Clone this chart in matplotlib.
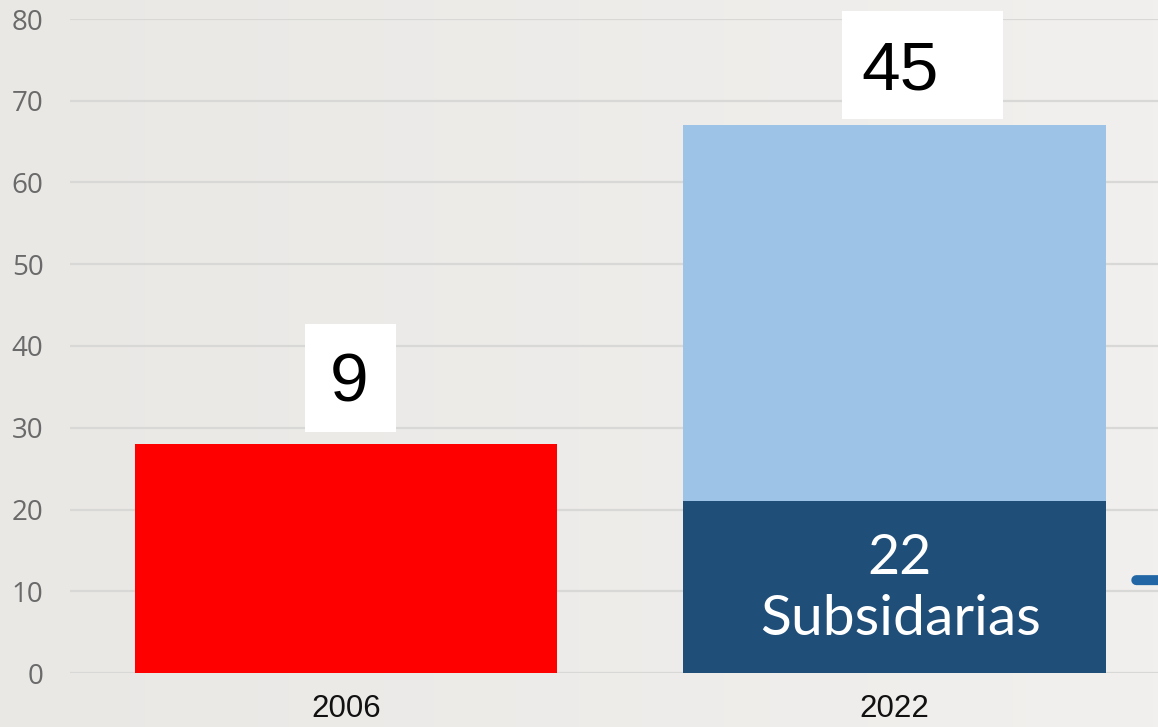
import matplotlib
matplotlib.use("Agg")
import matplotlib.pyplot as plt
import numpy as np
from matplotlib.colors import LinearSegmentedColormap
from matplotlib.patches import Rectangle
from matplotlib.transforms import Affine2D, ScaledTranslation

categories = ["2006", "2022"]
base_values = [28, 21]        # red bar (2006), dark-blue segment (2022)
top_values = [0, 46]          # light-blue segment on 2022
box_labels = ["9", "45"]
inner_number = "22"
inner_text = "Subsidarias"
yticks = [0, 10, 20, 30, 40, 50, 60, 70, 80]

W, H = 1158, 727
DPI = 100
fig = plt.figure(figsize=(W / DPI, H / DPI), dpi=DPI)
PX = 72 / DPI  # points per pixel

# gradient background
bg = fig.add_axes([0, 0, 1, 1])
grad = np.linspace(0, 1, 256).reshape(1, -1)
cmap = LinearSegmentedColormap.from_list("bg", ["#e9e8e5", "#f1f0ee"])
bg.imshow(grad, aspect="auto", cmap=cmap, extent=[0, 1, 0, 1])
bg.axis("off")

ax = fig.add_axes([70 / W, 1 - 673 / H, (W - 70) / W, (673 - 19) / H])
ax.patch.set_alpha(0)

x = np.arange(len(categories))
colors_base = ["#ff0000", "#1f4e79"]
ax.bar(x, base_values, width=0.77, color=colors_base, zorder=3)
ax.bar(x, top_values, width=0.77, bottom=base_values, color="#9dc3e6", zorder=3)

ax.set_ylim(0, 80)
ax.set_xlim(-0.503, 1.48)
ax.set_yticks(yticks)
ax.yaxis.grid(True, color="#d8d8d6", linewidth=1.6, zorder=0)
ax.set_axisbelow(True)
for s in ax.spines.values():
    s.set_visible(False)
ax.tick_params(axis="y", length=0, pad=19, labelsize=20, labelcolor="#6a6a6a")
ax.tick_params(axis="x", length=0, pad=15, labelsize=22.5, labelcolor="#111111")
for lab in ax.get_yticklabels():
    lab.set_fontfamily("Open Sans")
ax.set_xticks(x)
ax.set_xticklabels(categories, fontfamily="Liberation Sans")

totals = [b + t for b, t in zip(base_values, top_values)]


def pt_transform(xd, yd):
    return Affine2D().scale(DPI / 72) + ScaledTranslation(xd, yd, ax.transData)


# white label boxes: (box centre dx, dy, width, height, text dx, baseline dy) in pixels
box_geom = [(4.5, 66, 91, 108, 3, 43), (27.5, 60, 161, 108, 5, 36)]
for i, (lab, tot) in enumerate(zip(box_labels, totals)):
    cx, cy, bw, bh, tx, tb = box_geom[i]
    rect = Rectangle(((cx - bw / 2) * PX, (cy - bh / 2) * PX), bw * PX, bh * PX,
                     facecolor="white", edgecolor="none", zorder=4,
                     transform=pt_transform(x[i], tot), clip_on=False)
    ax.add_patch(rect)
    ax.annotate(lab, (x[i], tot), xytext=(tx * PX, tb * PX), textcoords="offset points",
                ha="center", va="baseline", fontsize=50, fontfamily="Liberation Sans",
                color="black", zorder=5)

mid = base_values[1] / 2
ax.annotate(inner_number, (x[1], mid), xytext=(5 * PX, 13 * PX), textcoords="offset points",
            ha="center", va="baseline", fontsize=40, fontfamily="Lato", color="white", zorder=5)
ax.annotate(inner_text, (x[1], mid), xytext=(6 * PX, -48 * PX), textcoords="offset points",
            ha="center", va="baseline", fontsize=41, fontfamily="Lato", color="white", zorder=5)

# small blue arrow stub at right edge
ax.annotate("", xy=(1.01, 0.142), xytext=(0.9775, 0.142), xycoords="axes fraction",
            arrowprops=dict(arrowstyle="-", color="#2266a6", lw=7.2, capstyle="round"),
            annotation_clip=False)

fig.savefig("out.png", dpi=DPI)
